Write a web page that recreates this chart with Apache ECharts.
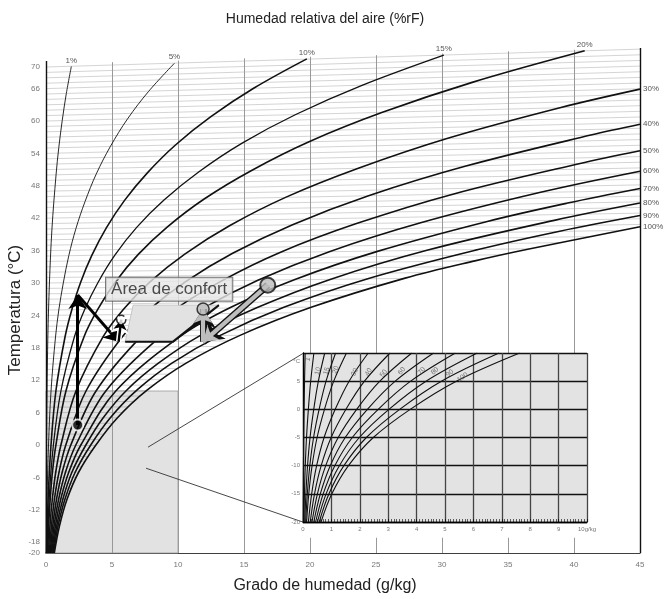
<!DOCTYPE html>
<html><head><meta charset="utf-8">
<script src="https://cdn.jsdelivr.net/npm/echarts/dist/echarts.min.js"></script>
<style>html,body{margin:0;padding:0;background:#fff}#c{width:664px;height:599px}</style>
</head><body><div id="c"></div>
<script>
// ---------- data ----------
const xTicks = [0,5,10,15,20,25,30,35,40,45];
const yTickValues = [-20,-18,-12,-6,0,6,12,18,24,30,36,42,48,54,60,66,70];
const isoTemps = [-19,-18,-17,-16,-15,-14,-13,-12,-11,-10,-9,-8,-7,-6,-5,-4,-3,-2,-1,0,1,2,3,4,5,6,7,8,9,10,11,12,13,14,15,16,17,18,19,20,21,22,23,24,25,26,27,28,29,30,31,32,33,34,35,36,37,38,39,40,41,42,43,44,45,46,47,48,49,50,51,52,53,54,55,56,57,58,59,60,61,62,63,64,65,66,67,68,69,70];
const isoSkew = 0.00105;           // upward slope of the isotherms
const vGridX   = [5,10,15,20,25,30,35,40];
const vGridTop = [70.9,71.2,71.6,71.9,72.2,72.5,72.9,73.2];
const leftBorder  = [[0,-20],[0,71.1]];
const rightBorder = [[45,-20],[45,73.5]];

const rhLabels = ['1%','5%','10%','15%','20%','30%','40%','50%','60%','70%','80%','90%','100%'];
const rh1  = [[0.01,-20],[0.02,-10],[0.04,0],[0.08,10],[0.14,20],[0.26,30],[0.45,40],[0.76,50],[0.97,55.1],[1.23,60.1],[1.54,65.1],[1.92,70.1]];
const rh5  = [[0.03,-20],[0.08,-10],[0.19,0],[0.38,10],[0.72,20],[0.97,25],[1.31,30],[1.73,35.1],[2.27,40.1],[2.96,45.1],[3.81,50.2],[4.88,55.3],[6.18,60.4],[7.78,65.5],[9.73,70.7]];
const rh10 = [[0.06,-20],[0.16,-10],[0.38,0],[0.75,10],[1.44,20],[1.95,25],[2.62,30.1],[3.47,35.1],[4.57,40.2],[5.95,45.3],[7.68,50.4],[9.83,55.6],[12.49,60.8],[15.76,66.1],[19.76,71.5]];
const rh15 = [[0.1,-20],[0.24,-10],[0.56,0],[1.13,10],[2.16,20.1],[2.93,25.1],[3.94,30.1],[5.23,35.2],[6.87,40.3],[8.96,45.4],[11.59,50.6],[14.86,55.9],[18.92,61.2],[23.94,66.6],[30.14,72.2]];
const rh20 = [[0.13,-20],[0.2,-15],[0.32,-10],[0.49,-5],[0.75,0],[1.51,10],[2.89,20.1],[3.92,25.1],[5.26,30.2],[6.99,35.3],[9.2,40.4],[12.01,45.6],[15.54,50.8],[19.97,56.2],[25.49,61.6],[32.35,67.2],[40.81,73]];
const rh30 = [[0.19,-20],[0.3,-15],[0.48,-10],[0.74,-5],[1.13,0],[2.27,10],[4.34,20.1],[5.89,25.2],[7.92,30.3],[10.54,35.4],[13.9,40.6],[18.19,45.9],[23.61,51.2],[30.44,56.8],[39.01,62.5],[45,65.9]];
const rh40 = [[0.25,-20],[0.41,-15],[0.64,-10],[0.99,-5],[1.5,0],[3.03,10],[5.8,20.1],[7.88,25.2],[10.61,30.3],[14.14,35.5],[18.68,40.8],[24.49,46.2],[31.88,51.7],[41.28,57.4],[45,59.4]];
const rh50 = [[0.32,-20],[0.51,-15],[0.8,-10],[1.23,-5],[1.88,0],[3.79,10],[7.26,20.2],[9.88,25.3],[13.31,30.4],[17.77,35.7],[23.52,41],[30.89,46.5],[40.38,52.1],[45,54.5]];
const rh60 = [[0.38,-20],[0.61,-15],[0.96,-10],[1.48,-5],[2.26,0],[4.56,10.1],[8.74,20.2],[11.9,25.3],[16.05,30.5],[21.46,35.8],[28.45,41.2],[37.47,46.8],[45,50.7]];
const rh70 = [[0.44,-20],[0.71,-15],[1.12,-10],[1.73,-5],[2.64,0],[5.32,10.1],[10.22,20.2],[13.93,25.4],[18.81,30.6],[25.17,35.9],[33.43,41.4],[39.51,44.8],[45,47.5]];
const rh80 = [[0.51,-20],[0.81,-15],[1.28,-10],[1.97,-5],[3.02,0],[4.32,5],[6.09,10.1],[8.49,15.1],[11.7,20.3],[15.96,25.4],[21.58,30.7],[28.93,36.1],[38.51,41.6],[45,44.8]];
const rh90 = [[0.57,-20],[0.91,-15],[1.44,-10],[2.22,-5],[3.39,0],[4.86,5],[6.86,10.1],[9.57,15.2],[13.2,20.3],[18.02,25.5],[24.38,30.8],[32.74,36.2],[38.92,39.6],[45,42.5]];
const rh100= [[0.63,-20],[1.02,-15],[1.6,-10],[2.48,-5],[3.78,0],[5.4,5],[7.63,10.1],[10.65,15.2],[14.7,20.3],[20.09,25.5],[27.21,30.9],[32.49,34.1],[36.59,36.3],[45,40.4]];
const rhCurves = [rh1,rh5,rh10,rh15,rh20,rh30,rh40,rh50,rh60,rh70,rh80,rh90,rh100];

const greyBox = [[0,-20],[10,-20],[10,10],[0,10]];
const connectors = [[[7.73,-0.4],[19.5,17.0]],[[7.58,-4.3],[19.5,-14.3]]];
const comfortZone = [[6.0,19.1],[9.6,19.1],[13.1,25.9],[6.6,25.9]];
const comfortEdge = [[6.0,19.1],[9.6,19.1],[13.1,25.9]];
const comfortLabelAt = [9.33,28.85];
const blackPath = [[2.4,3.7],[2.4,27.8],[5.5,19.1],[5.7,23.2]];
const grayPath  = [[16.8,29.6],[11.9,19.1],[11.9,25.2]];

// inset (low temperature detail)
const insetTemps = [-20,-15,-10,-5,0,5,10];
const insetLabels = ['1','10','15','20','30','40','50','60','70','80','90','100'];
const insetX = [
  [.006,.01,.016,.025,.038,.054,.077],
  [.032,.051,.08,.124,.189,.271,.383],
  [.063,.102,.16,.248,.378,.541,.765],
  [.095,.152,.24,.372,.567,.811,1.148],
  [.127,.203,.32,.496,.756,1.082,1.53],
  [.19,.305,.48,.743,1.134,1.623,2.296],
  [.254,.406,.64,.991,1.512,2.164,3.063],
  [.317,.508,.8,1.239,1.89,2.706,3.83],
  [.38,.61,.96,1.487,2.268,3.248,4.597],
  [.444,.711,1.12,1.735,2.647,3.79,5.365],
  [.507,.813,1.28,1.983,3.025,4.332,6.134],
  [.571,.914,1.44,2.231,3.404,4.874,6.903],
  [.634,1.016,1.6,2.476,3.775,5.4,7.63]
];
const insetLabelPos = [[0.17,8.9],[0.52,6.8],[0.83,6.8],[1.15,7.0],[1.82,6.6],[2.31,6.6],[2.84,6.4],[3.48,6.8],[4.18,6.8],[4.64,6.8],[5.17,6.4],[5.62,5.7]];
const insetLabelRot = [80,75,72,70,65,60,55,50,46,42,40,35];

// ---------- chart ----------
const FONT = '"Liberation Sans", Arial, Helvetica, sans-serif';
const chart = echarts.init(document.getElementById('c'));
const series = [];

function poly(grid, pts, style, z, clip) {
  return {type:'custom', xAxisIndex:grid, yAxisIndex:grid, z:z, silent:true, clip: !!clip,
    data:[[0,0]],
    renderItem:(p, api) => ({type:'polygon', shape:{points: pts.map(q => api.coord(q))}, style:style})};
}
function segs(grid, list, color, width, z, extra) {
  return Object.assign({type:'lines', coordinateSystem:'cartesian2d', xAxisIndex:grid, yAxisIndex:grid,
    z:z, silent:true, lineStyle:{color:color, width:width, opacity:1},
    data: list.map(c => ({coords:c}))}, extra || {});
}

// isotherms
series.push(segs(0, isoTemps.map(t => { const xe = t < 0 ? 10 : 45; return [[0,t],[xe, t*(1+isoSkew*xe)]]; }), '#c2c2c2', 0.7, 1));
// region below saturation (white)
series.push({type:'line', xAxisIndex:0, yAxisIndex:0, data:rh100, smooth:0.35, symbol:'none', silent:true,
  lineStyle:{width:0}, areaStyle:{color:'#ffffff', opacity:1, origin:'start'}, z:2});
// grey low-temperature box
series.push(poly(0, greyBox, {fill:'rgba(0,0,0,0.115)', stroke:'#9a9a9a', lineWidth:0.8}, 3));
// vertical grid and borders
series.push(segs(0, vGridX.map((x,i) => [[x,-20],[x,vGridTop[i]]]), '#999', 1, 4));
series.push(segs(0, [leftBorder, rightBorder], '#111', 1.4, 4));
// relative humidity curves
rhCurves.forEach((d, i) => {
  const top = i <= 4;
  series.push({type:'line', name:rhLabels[i], xAxisIndex:0, yAxisIndex:0, data:d, smooth:0.35, symbol:'none', silent:true, z:5,
    lineStyle:{color:'#111', width: i < 2 ? 0.9 : (i === 3 ? 1.3 : 1.6)},
    endLabel: top ? {show:true, formatter:rhLabels[i], color:'#555', fontSize:8, fontFamily:FONT, distance:0, align:'center', verticalAlign:'bottom', offset:[0,-2]}
                  : {show:true, formatter:rhLabels[i], color:'#555', fontSize:8, fontFamily:FONT, distance:3}
  });
});
// connectors to inset
series.push(segs(0, connectors, '#333', 0.9, 6));
// comfort zone
series.push(poly(0, comfortZone, {fill:'#e2e2e2', stroke:'#bbb', lineWidth:0.8}, 6));
series.push({type:'line', xAxisIndex:0, yAxisIndex:0, data:comfortEdge, symbol:'none', silent:true, z:6, lineStyle:{color:'#111', width:2}});
// processes
series.push(segs(0, [[grayPath[0],grayPath[1]],[grayPath[1],grayPath[2]]], '#111', 7, 7, {symbol:['none','arrow'], symbolSize:19}));
series.push(segs(0, [[grayPath[0],grayPath[1]],[grayPath[1],grayPath[2]]], '#bdbdbd', 4.2, 7, {symbol:['none','arrow'], symbolSize:14}));
series.push(segs(0, [[blackPath[0],blackPath[1]],[blackPath[1],blackPath[2]]], '#000', 3, 7, {symbol:['none','arrow'], symbolSize:14}));
series.push(segs(0, [[blackPath[2],blackPath[3]]], '#fff', 5.5, 7, {symbol:['none','arrow'], symbolSize:14}));
series.push(segs(0, [[blackPath[2],blackPath[3]]], '#000', 2.4, 7, {symbol:['none','arrow'], symbolSize:10}));
series.push({type:'scatter', xAxisIndex:0, yAxisIndex:0, z:8, silent:true, data:[
  {value:grayPath[0], symbolSize:15, itemStyle:{color:'#bdbdbd', borderColor:'#111', borderWidth:2}},
  {value:grayPath[2], symbolSize:12, itemStyle:{color:'#bdbdbd', borderColor:'#111', borderWidth:1.5}},
  {value:blackPath[0], symbolSize:11, itemStyle:{color:'#000', borderColor:'#fff', borderWidth:2}},
  {value:blackPath[3], symbolSize:9, itemStyle:{color:'#fff', borderColor:'#000', borderWidth:1.5, borderType:'dashed'}}
]});
// comfort label
series.push({type:'scatter', xAxisIndex:0, yAxisIndex:0, z:9, silent:true, symbolSize:1, itemStyle:{color:'transparent'},
  data:[comfortLabelAt],
  label:{show:true, position:'inside', formatter:'Área de confort', fontFamily:FONT, fontSize:17, color:'#222',
    backgroundColor:'#e6e6e6', borderColor:'#555', borderWidth:1, padding:[3,5,3,5]}});

// inset
series.push(poly(1, [[-0.35,-20],[10.6,-20],[10.6,-22.8],[-0.35,-22.8]], {fill:'#fff'}, 14, false));
series.push(poly(1, [[0,-20],[10,-20],[10,10],[0,10]], {fill:'#e3e3e3'}, 15, false));
insetX.forEach(xs => {
  series.push({type:'line', xAxisIndex:1, yAxisIndex:1, data: xs.map((x,k) => [x, insetTemps[k]]), smooth:0.35, symbol:'none', silent:true, z:25,
    lineStyle:{color:'#111', width:1.1}});
});
series.push({type:'scatter', xAxisIndex:1, yAxisIndex:1, z:26, silent:true, symbolSize:1, itemStyle:{color:'transparent'},
  data: insetLabelPos.map((p,i) => ({value:p, label:{rotate:insetLabelRot[i], formatter:insetLabels[i]}})),
  label:{show:true, position:'inside', fontSize:7, color:'#555', fontFamily:FONT}});

chart.setOption({
  animation:false,
  backgroundColor:'#fff',
  textStyle:{fontFamily:FONT},
  grid:[
    {left:46, right:24, top:34.6, bottom:46},
    {left:303, right:77, top:353, bottom:77}
  ],
  xAxis:[
    {type:'value', gridIndex:0, min:xTicks[0], max:xTicks[xTicks.length-1], interval:5,
      axisLine:{show:true, onZero:false, lineStyle:{color:'#000', width:1.5}}, axisTick:{show:false}, splitLine:{show:false},
      axisLabel:{color:'#777', fontSize:8, margin:8, fontFamily:FONT}},
    {type:'value', gridIndex:1, min:0, max:10, interval:1, z:20,
      axisLine:{show:true, onZero:false, lineStyle:{color:'#000', width:1.3}},
      axisTick:{show:true, inside:true, length:3, lineStyle:{color:'#000', width:0.7}},
      minorTick:{show:true, splitNumber:10, length:3, lineStyle:{color:'#000', width:0.6}},
      splitLine:{show:true, lineStyle:{color:'#444', width:1.3}},
      axisLabel:{color:'#777', fontSize:6, margin:4, fontFamily:FONT, formatter: v => v === 10 ? '10g/kg' : String(v)}}
  ],
  yAxis:[
    {type:'value', gridIndex:0, min:-20, max:76,
      axisLine:{show:false}, axisTick:{show:false}, splitLine:{show:false},
      axisLabel:{customValues:yTickValues, color:'#777', fontSize:8, margin:6, fontFamily:FONT}},
    {type:'value', gridIndex:1, min:-20, max:10, interval:5, z:20,
      axisLine:{show:true, onZero:false, lineStyle:{color:'#000', width:1.3}}, axisTick:{show:false},
      splitLine:{show:true, lineStyle:{color:'#111', width:1.3}},
      axisLabel:{color:'#777', fontSize:6, margin:3, fontFamily:FONT, formatter: v => v === 10 ? '' : String(v)},
      name:'°C', nameLocation:'end', nameGap:-11, nameTextStyle:{color:'#777', fontSize:6, align:'right', padding:[0,3,0,0]}}
  ],
  graphic:[
    {type:'text', x:325, y:19, z:30, style:{text:'Humedad relativa del aire (%rF)', fontFamily:FONT, fontSize:14, fill:'#222', align:'center', verticalAlign:'middle'}},
    {type:'text', x:325, y:586, z:30, style:{text:'Grado de humedad (g/kg)', fontFamily:FONT, fontSize:16, fill:'#222', align:'center', verticalAlign:'middle'}},
    {type:'text', x:15, y:310, rotation:Math.PI/2, z:30, style:{text:'Temperatura (°C)', fontFamily:FONT, fontSize:17, fill:'#222', align:'center', verticalAlign:'middle'}}
  ],
  series: series
});
</script></body></html>
